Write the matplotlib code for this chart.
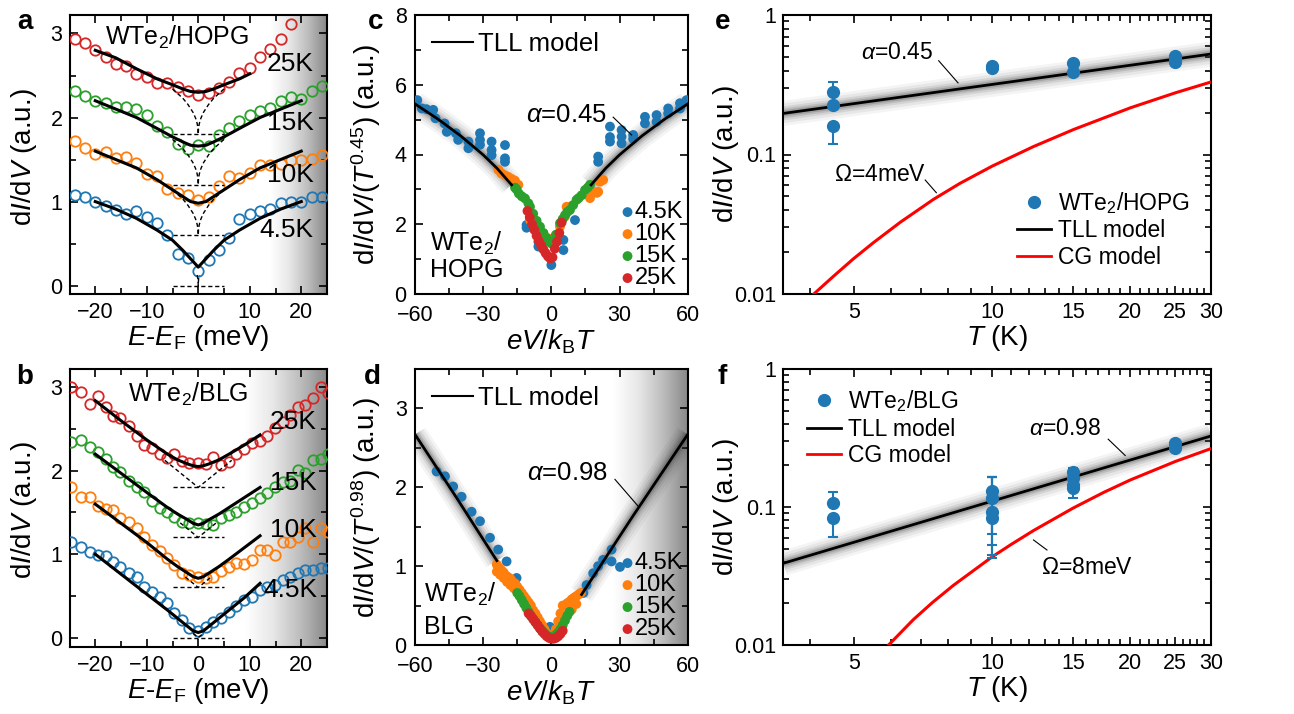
import numpy as np
import matplotlib
matplotlib.use('Agg')
import matplotlib.pyplot as plt
from matplotlib.ticker import MultipleLocator, FixedLocator, FixedFormatter, NullFormatter, LogLocator
from matplotlib.lines import Line2D
from matplotlib.colors import LinearSegmentedColormap

plt.rcParams['font.family'] = ['Liberation Sans', 'DejaVu Sans']
plt.rcParams['mathtext.fontset'] = 'custom'
plt.rcParams['mathtext.rm'] = 'Liberation Sans'
plt.rcParams['mathtext.it'] = 'Liberation Sans:italic'
plt.rcParams['mathtext.bf'] = 'Liberation Sans:bold'

C4, C10, C15, C25 = '#1f77b4', '#ff7f0e', '#2ca02c', '#d62728'
temps = ['4.5K', '10K', '15K', '25K']
colors = [C4, C10, C15, C25]

# ---------------- panel a data (WTe2/HOPG spectra) ----------------
a_E = [-24, -22, -20, -18, -16, -14, -12, -10, -8, -6, -4, -2, 0, 2, 4, 6, 8, 10, 12, 14, 16, 18, 20, 22, 24]
a_45K = [1.08, 1.06, 1.00, 0.95, 0.90, 0.85, 0.89, 0.82, 0.75, 0.60, 0.38, 0.33, 0.17, 0.31, 0.42, 0.57, 0.79, 0.85, 0.89, 0.91, 0.98, 0.99, 0.99, 1.05, 1.05]
a_10K = [1.72, 1.64, 1.57, 1.59, 1.52, 1.53, 1.46, 1.33, 1.30, 1.15, 1.10, 1.08, 1.02, 1.06, 1.18, 1.31, 1.28, 1.34, 1.43, 1.44, 1.45, 1.50, 1.50, 1.51, 1.55]
a_15K = [2.32, 2.26, 2.20, 2.17, 2.13, 2.12, 2.10, 2.03, 1.90, 1.83, 1.68, 1.63, 1.67, 1.66, 1.79, 1.88, 1.96, 2.03, 2.08, 2.11, 2.20, 2.24, 2.22, 2.32, 2.37]
a_E25 = [-24, -22, -20, -18, -16, -14, -12, -10, -8, -6, -4, -2, 0, 2, 4, 6, 8, 10, 12, 14, 16, 18]
a_25K = [2.94, 2.89, 2.80, 2.72, 2.64, 2.61, 2.52, 2.48, 2.41, 2.41, 2.36, 2.31, 2.27, 2.29, 2.35, 2.42, 2.53, 2.59, 2.72, 2.82, 2.93, 3.11]
a_fit_E = [-20, -16, -12, -8, -5, -3, -1.5, 0, 1.5, 3, 5, 8, 12, 16, 20]
a_fit_45K = [1.00, 0.91, 0.80, 0.66, 0.54, 0.42, 0.32, 0.22, 0.32, 0.42, 0.54, 0.66, 0.80, 0.91, 1.00]
a_fit_10K = [1.60, 1.50, 1.40, 1.26, 1.14, 1.06, 1.00, 0.98, 1.00, 1.06, 1.14, 1.26, 1.40, 1.50, 1.60]
a_fit_15K = [2.20, 2.10, 2.00, 1.87, 1.77, 1.71, 1.67, 1.66, 1.67, 1.71, 1.77, 1.87, 2.00, 2.10, 2.20]
a_fit_E25 = [-20, -16, -12, -8, -5, -3, -1.5, 0, 1.5, 3, 5, 8, 10]
a_fit_25K = [2.80, 2.71, 2.58, 2.46, 2.39, 2.34, 2.31, 2.30, 2.31, 2.34, 2.39, 2.46, 2.52]
a_cusp_E = [-5, -3, -2, -1, -0.5, -0.2, -0.05, 0, 0.05, 0.2, 0.5, 1, 2, 3, 5]
a_cusp_dy = [0.54, 0.43, 0.355, 0.26, 0.19, 0.126, 0.068, 0, 0.068, 0.126, 0.19, 0.26, 0.355, 0.43, 0.54]
a_base = [0.0, 0.6, 1.2, 1.8]
a_cusp_reach = [0.2, 5, 5, 5]

# ---------------- panel b data (WTe2/BLG spectra) ----------------
b_E = [-24.7, -22.8, -21, -19.5, -17.9, -16.5, -15.1, -13.5, -11.8, -10.5, -8.9, -7.4, -6.1, -4.7, -3.2, -1.7, 0,
       1.6, 2.9, 4.5, 6, 7.4, 8.9, 10.4, 12, 13.3, 14.9, 16.4, 17.8, 19.3, 20.7, 22.3, 23.8, 25.2]
b_45K = [1.15, 1.08, 1.03, 0.99, 0.98, 0.91, 0.84, 0.77, 0.72, 0.61, 0.55, 0.49, 0.41, 0.29, 0.21, 0.11, 0.08,
         0.13, 0.19, 0.23, 0.31, 0.38, 0.45, 0.48, 0.57, 0.61, 0.63, 0.69, 0.73, 0.77, 0.81, 0.81, 0.83, 0.83]
b_10K = [1.80, 1.69, 1.69, 1.58, 1.54, 1.53, 1.43, 1.39, 1.31, 1.21, 1.11, 1.04, 0.95, 0.87, 0.77, 0.75, 0.73,
         0.71, 0.72, 0.80, 0.84, 0.89, 0.88, 0.93, 1.05, 1.05, 0.99, 1.15, 1.15, 1.21, 1.31, 1.15, 1.31, 1.26]
b_15K = [2.34, 2.37, 2.28, 2.23, 2.14, 2.05, 1.99, 1.88, 1.81, 1.75, 1.64, 1.55, 1.51, 1.45, 1.39, 1.37, 1.37,
         1.36, 1.35, 1.43, 1.47, 1.51, 1.56, 1.61, 1.67, 1.73, 1.81, 1.87, 1.88, 2.01, 1.97, 2.13, 2.14, 2.20]
b_25K = [3.00, 2.94, 2.80, 2.90, 2.76, 2.66, 2.63, 2.54, 2.42, 2.31, 2.27, 2.20, 2.15, 2.20, 2.12, 2.09, 2.09,
         2.08, 2.16, 2.07, 2.11, 2.20, 2.26, 2.33, 2.36, 2.42, 2.51, 2.59, 2.67, 2.76, 2.79, 2.87, 3.00, 2.93]
b_fit_E = [-20, -15, -10, -6, -4, -2, -1, 0, 1, 2, 4, 6, 9, 12]
b_fit_45K = [1.00, 0.76, 0.52, 0.33, 0.23, 0.13, 0.08, 0.06, 0.08, 0.13, 0.23, 0.33, 0.48, 0.65]
b_fit_10K = [1.60, 1.37, 1.14, 0.94, 0.85, 0.77, 0.73, 0.71, 0.73, 0.77, 0.85, 0.94, 1.08, 1.22]
b_fit_15K = [2.20, 1.97, 1.74, 1.56, 1.48, 1.41, 1.37, 1.35, 1.37, 1.41, 1.48, 1.56, 1.68, 1.80]
b_fit_25K = [2.84, 2.60, 2.37, 2.20, 2.13, 2.08, 2.06, 2.05, 2.06, 2.08, 2.13, 2.20, 2.31, 2.43]
b_cusp_E = [-1, 0, 1]
b_cusp_dy = [0.05, 0, 0.05]
b_base = [0.0, 0.6, 1.2, 1.8]
b_cusp_scale = [1.0, 2.5, 3.5, 6.5]

# ---------------- panel c data (scaled, HOPG) ----------------
c_45K_x = [-59, -57, -55, -52, -51, -47, -46, -42, -41, -36.5, -36.5, -31.4, -31.4, -31.4, -26.3, -26.3, -26.3,
           -20.4, -20.4, -20.4, -10.9, -10.9, -5.7, -5.7, 0, 5.3, 5.3, 10.4, 20.6, 20.6, 25.8, 25.8, 25.8,
           30.9, 30.9, 30.9, 36, 36, 41.2, 41.2, 46.3, 46.3, 51.4, 51.4, 56.6, 56.6, 59.5]
c_45K_y = [5.56, 5.32, 5.30, 5.28, 5.04, 4.89, 4.65, 4.61, 4.42, 4.37, 4.18, 4.61, 4.42, 4.28, 4.37, 4.13, 3.98,
           4.27, 3.89, 3.79, 1.98, 1.90, 1.36, 1.50, 0.83, 1.55, 1.26, 2.12, 3.94, 3.79, 4.80, 4.50, 4.37,
           4.70, 4.51, 4.32, 4.56, 4.45, 5.08, 4.89, 5.13, 4.94, 5.32, 5.18, 5.47, 5.32, 5.56]
c_10K_x = [-23.3, -22, -20.4, -19, -17.5, -16, -14.5, -9.4, -6, -3.5, -1.5, 0, 1.5, 3.8, 6, 6.7, 8.2,
           17, 18.4, 20, 20.6, 21.4, 22.8]
c_10K_y = [3.56, 3.46, 3.40, 3.36, 3.30, 3.25, 3.13, 2.12, 1.90, 1.74, 1.60, 1.50, 1.60, 1.93, 2.22, 2.50, 2.50,
           2.75, 2.93, 2.90, 2.93, 3.22, 3.27]
c_15K_x = [-16, -15.3, -14.3, -13, -11.6, -10.1, -9.4, -8, -6.5, -5, -3.5, -2, -1, 0, 1, 2, 3.8, 5, 6, 7,
           8.2, 9.6, 11.1, 12, 13.3, 14.8, 16, 17]
c_15K_y = [3.05, 3.00, 2.88, 2.80, 2.74, 2.60, 2.50, 2.30, 2.10, 1.93, 1.75, 1.60, 1.50, 1.45, 1.50, 1.70, 2.03,
           2.15, 2.26, 2.35, 2.41, 2.55, 2.70, 2.75, 2.83, 2.98, 3.05, 3.13]
c_25K_x = [-10.5, -9.5, -8.5, -7.5, -6.5, -5.5, -4.5, -3.5, -2.5, -1.5, -0.5, 0.5, 1.5, 2.5, 3.5, 4.5]
c_25K_y = [2.38, 2.20, 2.00, 1.84, 1.67, 1.52, 1.40, 1.28, 1.17, 1.08, 1.02, 1.05, 1.30, 1.50, 1.75, 2.05]
c_tll_left_x = [-60, -50, -40, -30, -24, -17.5]
c_tll_left_y = [5.45, 5.02, 4.54, 3.99, 3.61, 3.13]
c_tll_right_x = [17.5, 24, 30, 40, 50, 60]
c_tll_right_y = [3.13, 3.61, 3.99, 4.54, 5.02, 5.45]

# ---------------- panel d data (scaled, BLG) ----------------
d_45K_x = [-50.5, -46.8, -43.2, -39.5, -35.1, -31.4, -27, -23.4, -19.7, -15.3, -0.6, 3.8,
           14.1, 15.5, 18.4, 20.6, 22.8, 26.5, 26.5, 30.2]
d_45K_y = [2.20, 2.14, 2.01, 1.88, 1.69, 1.57, 1.36, 1.21, 1.06, 0.85, 0.23, 0.30,
           0.66, 0.76, 0.91, 1.00, 1.08, 1.21, 1.06, 0.99]
d_10K_x = [-24, -23, -22, -21, -20, -19, -18, -17, -16, -15, -14, -13, -12, -11, -10, -9, -8, -7, -6, -5, -4,
           -3, -2, -1, 0, 1, 2, 3, 4, 5, 6, 7, 8, 9, 10, 11, 12, 13,
           -24, -22.5, -21, -19.5, -18, -16.5, -15, -13.5, -12, 3, 5, 7, 9, 11]
d_10K_y = [1.02, 0.98, 0.95, 0.92, 0.88, 0.86, 0.84, 0.80, 0.78, 0.74, 0.70, 0.66, 0.62, 0.58, 0.54, 0.50, 0.44,
           0.40, 0.35, 0.30, 0.25, 0.20, 0.15, 0.11, 0.09, 0.12, 0.20, 0.30, 0.40, 0.50, 0.50, 0.53, 0.55, 0.58,
           0.60, 0.62, 0.64, 0.66,
           0.93, 0.89, 0.85, 0.80, 0.76, 0.72, 0.68, 0.63, 0.57, 0.18, 0.30, 0.38, 0.45, 0.52]
d_15K_x = [-15, -14, -13, -12, -11, -10, -9, -8, -7, -6, -5, -4, -3, -2, -1, 0, 1, 2, 3, 4, 5, 6, 7, 8]
d_15K_y = [0.66, 0.62, 0.57, 0.52, 0.47, 0.42, 0.37, 0.33, 0.29, 0.25, 0.21, 0.18, 0.15, 0.12, 0.11, 0.10,
           0.11, 0.13, 0.16, 0.20, 0.25, 0.31, 0.37, 0.42]
d_25K_x = [-10, -9, -8, -7, -6, -5, -4, -3, -2, -1, 0, 1, 2, 3, 4, 5]
d_25K_y = [0.40, 0.37, 0.33, 0.29, 0.25, 0.21, 0.17, 0.14, 0.11, 0.09, 0.08, 0.08, 0.09, 0.11, 0.14, 0.18]
d_tll_left_x = [-60, -42, -24]
d_tll_left_y = [2.67, 1.88, 1.07]
d_tll_right_x = [13.3, 36, 60]
d_tll_right_y = [0.64, 1.64, 2.67]

# ---------------- panel e data ----------------
e_T = [4.5, 4.5, 4.5, 10, 10, 15, 15, 25, 25, 25]
e_G = [0.28, 0.225, 0.16, 0.42, 0.43, 0.455, 0.392, 0.51, 0.48, 0.46]
e_err_lo = [0, 0, 0.041, 0.01, 0.01, 0.01, 0.01, 0.01, 0.01, 0.01]
e_err_hi = [0.053, 0, 0, 0.01, 0.01, 0.01, 0.01, 0.01, 0.01, 0.01]
e_tll_T = [3.5, 30]
e_tll_G = [0.197, 0.525]
e_cg_T = [4.08, 4.51, 4.98, 5.5, 6.3, 7.45, 8.5, 10, 12.3, 15.04, 20, 25.1, 30]
e_cg_G = [0.01, 0.01346, 0.0179, 0.0233, 0.0327, 0.0478, 0.0621, 0.0826, 0.114, 0.151, 0.216, 0.277, 0.331]

# ---------------- panel f data ----------------
f_T = [4.5, 4.5, 10, 10, 10, 10, 15, 15, 15, 15, 25, 25]
f_G = [0.107, 0.0836, 0.131, 0.116, 0.0925, 0.083, 0.180, 0.161, 0.144, 0.137, 0.29, 0.266]
f_err_lo = [0, 0.0226, 0.067, 0.063, 0.05, 0.038, 0, 0, 0, 0.02, 0, 0.011]
f_err_hi = [0.022, 0, 0.035, 0.05, 0.0735, 0.083, 0.011, 0, 0, 0, 0.012, 0]
f_tll_T = [3.5, 30]
f_tll_G = [0.0391, 0.327]
f_cg_T = [5.94, 6.73, 7.4, 8.23, 10, 11, 12.3, 15.04, 17.5, 20, 25.1, 30]
f_cg_G = [0.01, 0.0153, 0.0203, 0.0271, 0.0436, 0.0536, 0.0675, 0.0986, 0.1276, 0.157, 0.214, 0.265]

# ======================================================================
W, H = 1294, 714
fig = plt.figure(figsize=(W / 100, H / 100), dpi=100)


def px_axes(l, t, r, b):
    return fig.add_axes([l / W, 1 - b / H, (r - l) / W, (b - t) / H])


TICK_FS = 15.5
LABEL_FS = 20
TEXT_FS = 18.5

gray_cmap = LinearSegmentedColormap.from_list('sh', ['#ffffff', '#e8e8e8', '#bdbdbd', '#888888'])


def style(ax, xpad=6, ypad=5):
    ax.tick_params(which='both', direction='in', top=True, right=True, labelsize=TICK_FS, width=1.2)
    ax.tick_params(which='major', length=6)
    ax.tick_params(which='minor', length=4)
    ax.tick_params(axis='x', which='major', pad=xpad)
    ax.tick_params(axis='y', which='major', pad=ypad)
    for s in ax.spines.values():
        s.set_linewidth(1.5)


def shade(ax, x0, x1, y0, y1):
    grad = np.linspace(0, 1, 256).reshape(1, -1)
    ax.imshow(grad, extent=[x0, x1, y0, y1], aspect='auto', cmap=gray_cmap, vmin=0, vmax=1,
              zorder=0, interpolation='bilinear')


def blurred(ax, x, y):
    for lw, al in [(18, 0.05), (14, 0.07), (10, 0.10), (7, 0.14), (4.5, 0.2)]:
        ax.plot(x, y, color='0.2', lw=lw, alpha=al, solid_capstyle='butt', zorder=2)
    ax.plot(x, y, color='k', lw=2, zorder=5)


ylab_a = r'd$I$/d$V$ (a.u.)'

# ---------------- panel a ----------------
axa = px_axes(69.5, 15, 327, 294)
shade(axa, 14, 25, -0.1, 3.22)
for E, y, c in [(a_E, a_45K, C4), (a_E, a_10K, C10), (a_E, a_15K, C15), (a_E25, a_25K, C25)]:
    axa.plot(E, y, 'o', mfc='none', mec=c, ms=7.5, mew=1.3, zorder=3)
for base, reach in zip(a_base, a_cusp_reach):
    axa.plot([-5, 5], [base, base], 'k--', lw=1, dashes=(3, 2), zorder=4)
    ce = [e for e in a_cusp_E if abs(e) <= reach]
    cy = [base + d for e, d in zip(a_cusp_E, a_cusp_dy) if abs(e) <= reach]
    axa.plot(ce, cy, 'k--', lw=1, dashes=(3, 2), zorder=4)
for E, y in [(a_fit_E, a_fit_45K), (a_fit_E, a_fit_10K), (a_fit_E, a_fit_15K), (a_fit_E25, a_fit_25K)]:
    axa.plot(E, y, 'k-', lw=2.2, zorder=5)
axa.set_xlim(-25, 25)
axa.set_ylim(-0.1, 3.22)
axa.xaxis.set_major_locator(MultipleLocator(10))
axa.xaxis.set_minor_locator(MultipleLocator(5))
axa.yaxis.set_major_locator(MultipleLocator(1))
axa.yaxis.set_minor_locator(MultipleLocator(0.5))
style(axa)
axa.set_xlabel(r'$E$-$E_{\rm F}$ (meV)', fontsize=LABEL_FS, labelpad=0)
axa.set_ylabel(ylab_a, fontsize=LABEL_FS)
axa.yaxis.set_label_coords(-0.12, 0.49)
axa.text(-4.1, 2.95, r'WTe$_2$/HOPG', fontsize=18, ha='center', va='center', zorder=6)
for t, (x, y) in zip(['25K', '15K', '10K', '4.5K'], [(17.8, 2.64), (17.8, 1.93), (17.8, 1.32), (17.2, 0.66)]):
    axa.text(x, y, t, fontsize=19, ha='center', va='center', zorder=6)

# ---------------- panel b ----------------
axb = px_axes(69.5, 369, 327, 646.7)
shade(axb, 9, 25, -0.11, 3.22)
for y, c in zip([b_45K, b_10K, b_15K, b_25K], colors):
    axb.plot(b_E, y, 'o', mfc='none', mec=c, ms=7.5, mew=1.3, zorder=3)
for base, sc in zip(b_base, b_cusp_scale):
    axb.plot([-5, 5], [base, base], 'k--', lw=1, dashes=(3, 2), zorder=4)
    axb.plot([e * sc for e in b_cusp_E], [base + d * sc for d in b_cusp_dy], 'k--', lw=1, dashes=(3, 2), zorder=4)
for y in [b_fit_45K, b_fit_10K, b_fit_15K, b_fit_25K]:
    axb.plot(b_fit_E, y, 'k-', lw=2.2, zorder=5)
axb.set_xlim(-25, 25)
axb.set_ylim(-0.11, 3.22)
axb.xaxis.set_major_locator(MultipleLocator(10))
axb.xaxis.set_minor_locator(MultipleLocator(5))
axb.yaxis.set_major_locator(MultipleLocator(1))
axb.yaxis.set_minor_locator(MultipleLocator(0.5))
style(axb)
axb.set_xlabel(r'$E$-$E_{\rm F}$ (meV)', fontsize=LABEL_FS, labelpad=0)
axb.set_ylabel(ylab_a, fontsize=LABEL_FS)
axb.yaxis.set_label_coords(-0.12, 0.49)
axb.text(-1.9, 2.91, r'WTe$_2$/BLG', fontsize=18, ha='center', va='center', zorder=6)
for t, (x, y) in zip(['25K', '15K', '10K', '4.5K'], [(18.4, 2.59), (18.4, 1.85), (18.4, 1.29), (17.8, 0.57)]):
    axb.text(x, y, t, fontsize=19, ha='center', va='center', zorder=6)

# ---------------- panel c ----------------
axc = px_axes(415, 15, 687.7, 294)
blurred(axc, c_tll_left_x, c_tll_left_y)
blurred(axc, c_tll_right_x, c_tll_right_y)
sc_handles = []
for x, y, c, t in [(c_45K_x, c_45K_y, C4, '4.5K'), (c_10K_x, c_10K_y, C10, '10K'),
                   (c_15K_x, c_15K_y, C15, '15K'), (c_25K_x, c_25K_y, C25, '25K')]:
    sc_handles.append(axc.scatter(x, y, s=50, color=c, edgecolors='none', zorder=4, label=t))
axc.set_xlim(-60, 60)
axc.set_ylim(0, 8)
axc.xaxis.set_major_locator(MultipleLocator(30))
axc.xaxis.set_minor_locator(MultipleLocator(15))
axc.yaxis.set_major_locator(MultipleLocator(2))
axc.yaxis.set_minor_locator(MultipleLocator(1))
style(axc, xpad=8, ypad=6)
axc.set_xlabel(r'$eV/k_{\rm B}T$', fontsize=LABEL_FS, labelpad=1)
axc.set_ylabel(r'd$I$/d$V$/($T^{0.45}$) (a.u.)', fontsize=LABEL_FS)
axc.yaxis.set_label_coords(-0.118, 0.5)
leg1 = axc.legend([Line2D([], [], color='k', lw=1.5)], ['TLL model'], loc='upper left', frameon=False,
                  fontsize=TEXT_FS, handlelength=1.6, handletextpad=0.2, borderaxespad=0.25)
axc.add_artist(leg1)
axc.legend(handles=sc_handles, loc='lower right', frameon=False, fontsize=17, handlelength=0.4,
           handletextpad=0.1, labelspacing=0.0, borderaxespad=0.1, borderpad=0.1, scatterpoints=1)
axc.text(-53.4, 1.45, r'WTe$_2$/', fontsize=18, ha='left', va='center')
axc.text(-53.4, 0.69, 'HOPG', fontsize=18, ha='left', va='center')
axc.text(6.4, 5.13, r'$\alpha$=0.45', fontsize=TEXT_FS, ha='center', va='center')
axc.plot([27.2, 35.3], [5.07, 4.56], 'k-', lw=0.8, zorder=6)

# ---------------- panel d ----------------
axd = px_axes(415, 369, 687.7, 645)
shade(axd, 27, 60, 0, 3.5)
blurred(axd, d_tll_left_x, d_tll_left_y)
blurred(axd, d_tll_right_x, d_tll_right_y)
sd = []
for x, y, c, t in [(d_45K_x, d_45K_y, C4, '4.5K'), (d_10K_x, d_10K_y, C10, '10K'),
                   (d_15K_x, d_15K_y, C15, '15K'), (d_25K_x, d_25K_y, C25, '25K')]:
    sd.append(axd.scatter(x, y, s=50, color=c, edgecolors='none', zorder=4, label=t))
axd.set_xlim(-60, 60)
axd.set_ylim(0, 3.5)
axd.xaxis.set_major_locator(MultipleLocator(30))
axd.xaxis.set_minor_locator(MultipleLocator(15))
axd.yaxis.set_major_locator(MultipleLocator(1))
axd.yaxis.set_minor_locator(MultipleLocator(0.5))
style(axd, xpad=8, ypad=6)
axd.set_xlabel(r'$eV/k_{\rm B}T$', fontsize=LABEL_FS, labelpad=1)
axd.set_ylabel(r'd$I$/d$V$/($T^{0.98}$) (a.u.)', fontsize=LABEL_FS)
axd.yaxis.set_label_coords(-0.118, 0.5)
leg2 = axd.legend([Line2D([], [], color='k', lw=1.5)], ['TLL model'], loc='upper left', frameon=False,
                  fontsize=TEXT_FS, handlelength=1.6, handletextpad=0.2, borderaxespad=0.25)
axd.add_artist(leg2)
axd.legend(handles=sd, loc='lower right', frameon=False, fontsize=17, handlelength=0.4,
           handletextpad=0.1, labelspacing=0.0, borderaxespad=0.1, borderpad=0.1, scatterpoints=1)
axd.text(-55.9, 0.64, r'WTe$_2$/', fontsize=18, ha='left', va='center')
axd.text(-55.9, 0.23, 'BLG', fontsize=18, ha='left', va='center')
axd.text(7, 2.18, r'$\alpha$=0.98', fontsize=TEXT_FS, ha='center', va='center')
axd.plot([28, 38.2], [2.1, 1.76], 'k-', lw=0.8, zorder=6)


# ---------------- panels e, f ----------------
def style_log(ax):
    ax.set_xscale('log')
    ax.set_yscale('log')
    ax.set_xlim(3.5, 30)
    ax.set_ylim(0.01, 1)
    ax.xaxis.set_major_locator(FixedLocator([5, 10, 15, 20, 25, 30]))
    ax.xaxis.set_major_formatter(FixedFormatter(['5', '10', '15', '20', '25', '30']))
    ax.xaxis.set_minor_locator(FixedLocator([4, 6, 7, 8, 9, 11, 12, 13, 14, 16, 17, 18, 19,
                                             21, 22, 23, 24, 26, 27, 28, 29]))
    ax.xaxis.set_minor_formatter(NullFormatter())
    ax.yaxis.set_major_locator(FixedLocator([0.01, 0.1, 1]))
    ax.yaxis.set_major_formatter(FixedFormatter(['0.01', '0.1', '1']))
    ax.yaxis.set_minor_locator(LogLocator(base=10, subs=(2, 3, 4, 5, 6, 7, 8, 9)))
    ax.yaxis.set_minor_formatter(NullFormatter())
    style(ax)
    ax.set_xlabel(r'$T$ (K)', fontsize=LABEL_FS, labelpad=0)
    ax.set_ylabel(ylab_a, fontsize=LABEL_FS)
    ax.yaxis.set_label_coords(-0.1, 0.5)


axe = px_axes(783.3, 15, 1211, 294)
blurred(axe, e_tll_T, e_tll_G)
axe.plot(e_cg_T, e_cg_G, color='#ff0000', lw=2.2, zorder=5)
axe.errorbar(e_T, e_G, yerr=[e_err_lo, e_err_hi], fmt='o', color=C4, ms=8.5, capsize=3.5, elinewidth=1.5,
             capthick=1.5, zorder=6)
style_log(axe)
axe.legend([Line2D([], [], ls='none', marker='o', color=C4, ms=8.5),
            Line2D([], [], color='k', lw=2), Line2D([], [], color='#ff0000', lw=2)],
           [r'WTe$_2$/HOPG', 'TLL model', 'CG model'], loc='lower left', bbox_to_anchor=(0.546, 0.09),
           frameon=False, fontsize=16.5, handlelength=1.5, handletextpad=0.3, labelspacing=0.15,
           borderpad=0, borderaxespad=0)
axe.text(6.2, 0.537, r'$\alpha$=0.45', fontsize=16.5, ha='center', va='center')
axe.plot([7.64, 8.42], [0.47, 0.326], 'k-', lw=0.8, zorder=6)
axe.text(5.68, 0.0713, r'$\Omega$=4meV', fontsize=16.5, ha='center', va='center')
axe.plot([7.14, 7.55], [0.0656, 0.0532], 'k-', lw=0.8, zorder=6)

axf = px_axes(783.3, 369, 1211, 645)
blurred(axf, f_tll_T, f_tll_G)
axf.plot(f_cg_T, f_cg_G, color='#ff0000', lw=2.2, zorder=5)
axf.errorbar(f_T, f_G, yerr=[f_err_lo, f_err_hi], fmt='o', color=C4, ms=8.5, capsize=3.5, elinewidth=1.5,
             capthick=1.5, zorder=6)
style_log(axf)
axf.legend([Line2D([], [], ls='none', marker='o', color=C4, ms=8.5),
            Line2D([], [], color='k', lw=2), Line2D([], [], color='#ff0000', lw=2)],
           [r'WTe$_2$/BLG', 'TLL model', 'CG model'], loc='upper left', bbox_to_anchor=(0.055, 0.93),
           frameon=False, fontsize=16.5, handlelength=1.5, handletextpad=0.3, labelspacing=0.15,
           borderpad=0, borderaxespad=0)
axf.text(14.4, 0.371, r'$\alpha$=0.98', fontsize=16.5, ha='center', va='center')
axf.plot([17.9, 19.5], [0.31, 0.236], 'k-', lw=0.8, zorder=6)
axf.text(16.1, 0.0363, r'$\Omega$=8meV', fontsize=16.5, ha='center', va='center')
axf.plot([13.16, 12.3], [0.0488, 0.0577], 'k-', lw=0.8, zorder=6)

# panel letters
for lab, (x, y) in zip('abcdef', [(25, 22), (25, 377), (376, 22), (372, 377), (723, 22), (722, 377)]):
    fig.text(x / W, 1 - y / H, lab, fontsize=20, fontweight='bold', ha='center', va='center')

fig.savefig('out.png', dpi=100)
